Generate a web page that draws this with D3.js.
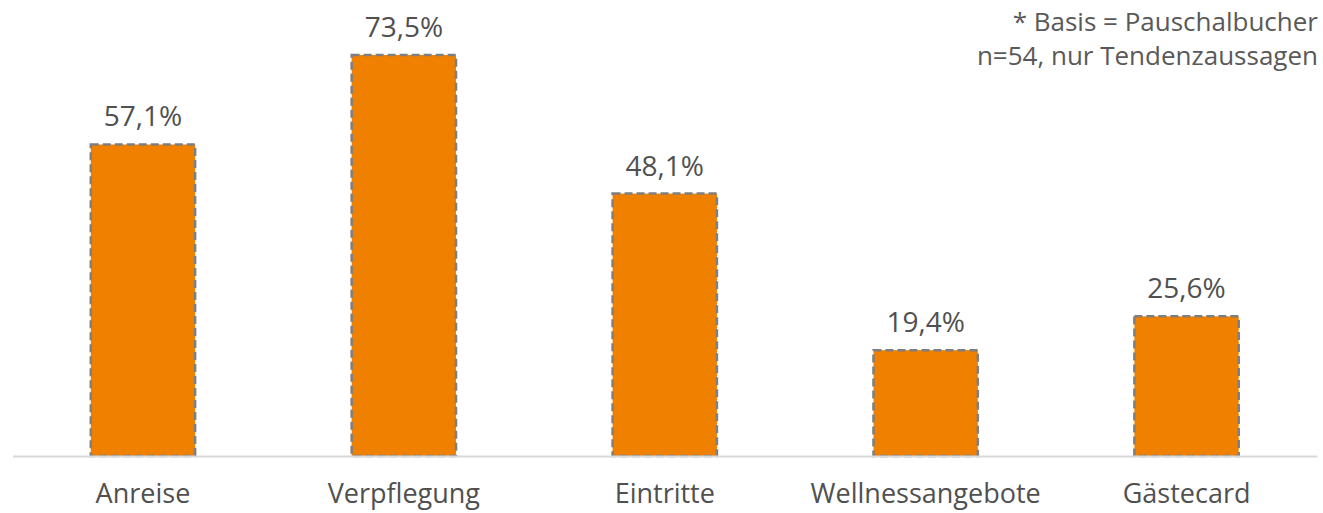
<!DOCTYPE html>
<html>
<head>
<meta charset="utf-8">
<script src="https://cdn.jsdelivr.net/npm/d3@7"></script>
<style>
  body { margin: 0; background: #fff; }
  text { font-family: "Open Sans", "Noto Sans", sans-serif; }
</style>
</head>
<body>
<div id="chart"></div>
<script>
var categories = ["Anreise", "Verpflegung", "Eintritte", "Wellnessangebote", "Gästecard"],
    values = [57.1, 73.5, 48.1, 19.4, 25.6],
    noteLines = ["* Basis = Pauschalbucher", "n=54, nur Tendenzaussagen"];

var width = 1323,
    height = 513,
    baseline = 456;

var svg = d3.select("#chart")
    .append("svg")
    .attr("width", width)
    .attr("height", height);

var x = d3.scaleBand()
    .domain(categories)
    .range([12.5, 1317])
    .paddingInner(0.6)
    .paddingOuter(0.3);

var y = d3.scaleLinear()
    .domain([0, 73.5])
    .range([baseline, 55]);

// bars
svg.selectAll("rect.bar")
    .data(values)
    .enter().append("rect")
    .attr("class", "bar")
    .attr("x", function(d, i) { return x(categories[i]); })
    .attr("y", function(d) { return y(d); })
    .attr("width", x.bandwidth())
    .attr("height", function(d) { return baseline - y(d); })
    .style("fill", "#f08100")
    .style("stroke", "#7f7f7f")
    .style("stroke-width", 2.5)
    .style("stroke-dasharray", "8,4");

// baseline axis
var axis = svg.append("g")
    .attr("transform", "translate(0," + baseline + ")")
    .call(d3.axisBottom(x).tickSize(0).tickPadding(28));

axis.select(".domain")
    .attr("stroke", "#d9d9d9")
    .attr("stroke-width", 2);

axis.selectAll("text")
    .style("font-size", "27px")
    .style("fill", "#505050");

// value labels
svg.selectAll("text.value")
    .data(values)
    .enter().append("text")
    .attr("class", "value")
    .attr("x", function(d, i) { return x(categories[i]) + x.bandwidth() / 2; })
    .attr("y", function(d) { return y(d) - 18; })
    .attr("text-anchor", "middle")
    .style("font-size", "28px")
    .style("fill", "#505050")
    .text(function(d) { return d3.format(".1f")(d).replace(".", ",") + "%"; });

// note
svg.selectAll("text.note")
    .data(noteLines)
    .enter().append("text")
    .attr("class", "note")
    .attr("x", 1318)
    .attr("y", function(d, i) { return 31 + i * 34; })
    .attr("text-anchor", "end")
    .style("font-size", "26px")
    .style("fill", "#595959")
    .text(function(d) { return d; });
</script>
</body>
</html>
